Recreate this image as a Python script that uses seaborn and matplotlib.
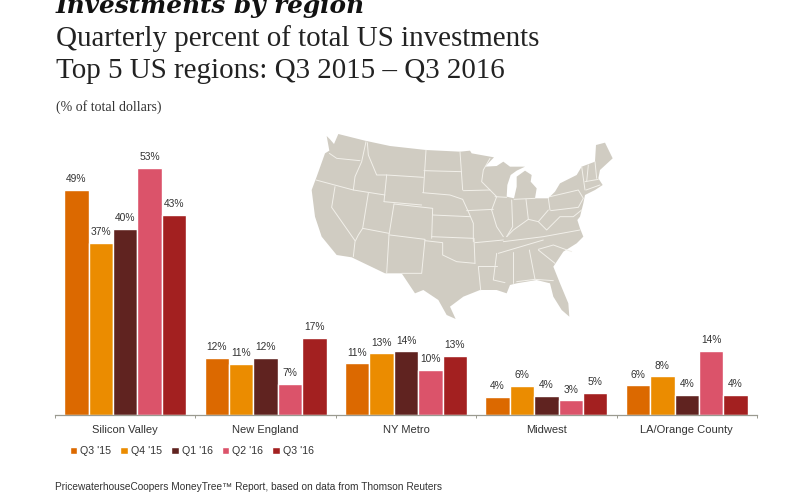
import matplotlib
matplotlib.use("Agg")
import matplotlib.pyplot as plt
import pandas as pd
import seaborn as sns

regions = ["Silicon Valley", "New England", "NY Metro", "Midwest", "LA/Orange County"]
quarters = ["Q3 '15", "Q4 '15", "Q1 '16", "Q2 '16", "Q3 '16"]
q3_15 = [48.6, 12.4, 11.2, 3.9, 6.4]
q4_15 = [37.2, 11.0, 13.3, 6.3, 8.4]
q1_16 = [40.2, 12.4, 13.8, 4.1, 4.4]
q2_16 = [53.3, 6.7, 9.8, 3.2, 13.9]
q3_16 = [43.2, 16.7, 12.8, 4.8, 4.4]
palette = ["#DC6900", "#EB8C00", "#602320", "#DB536A", "#A32020"]

title_lines = ["Quarterly percent of total US investments", "Top 5 US regions: Q3 2015 \u2013 Q3 2016"]

# Decorative map sketch (pixel coordinates of the 3x zoom frame)
us_outline = [(110,48),(120,58),(132,72),(145,42),(225,62),(300,78),(408,90),(510,95),(540,92),(545,100),(612,112),
 (585,140),(620,138),(640,125),(660,140),(705,140),(680,152),(662,165),(652,195),(650,230),(672,235),(680,200),
 (680,170),(705,152),(725,165),(722,185),(740,205),(735,235),(775,235),(795,215),(810,190),(860,165),(875,140),
 (915,125),(918,75),(945,68),(968,115),(930,150),(925,175),(938,195),(915,210),(885,225),(880,250),(870,290),
 (862,300),(870,325),(880,350),(860,370),(820,395),(790,440),(810,490),(835,550),(838,590),(815,570),(790,530),
 (780,490),(740,480),(680,490),(660,495),(650,520),(620,510),(570,510),(520,530),(480,560),(497,597),(470,585),
 (445,540),(400,510),(375,520),(335,460),(285,460),(185,412),(140,405),(95,350),(75,290),(65,210),(80,170),
 (105,100),(118,92)]
state_lines = [
 [(118,100),(140,115),(210,122)], [(228,65),(215,125),(195,170),(190,210)],
 [(232,68),(235,105),(260,165),(290,165)], [(78,180),(190,210),(285,225)],
 [(135,200),(125,262),(195,362)], [(235,220),(218,325),(205,345),(195,365),(190,410)],
 [(290,165),(282,245)], [(290,165),(400,172)], [(282,245),(395,255)], [(408,90),(400,218)],
 [(402,152),(515,155)], [(398,218),(480,225),(518,238)], [(312,252),(297,345)],
 [(312,252),(428,265),(425,355)], [(428,285),(540,290)], [(425,350),(550,355)],
 [(297,345),(290,460)], [(218,325),(297,340)], [(300,345),(405,358),(395,460),(335,460)],
 [(405,362),(458,368),(458,405),(500,425),(555,430)], [(552,355),(555,430)],
 [(510,95),(518,210)], [(520,212),(600,210)], [(600,115),(580,150),(575,185),(600,210),(620,230)],
 [(530,272),(610,268)], [(620,230),(605,270)], [(518,238),(535,275),(550,310),(550,365)],
 [(555,368),(640,360)], [(605,270),(620,320),(640,350)], [(615,230),(650,232)],
 [(665,240),(668,320),(650,350)], [(708,238),(715,298)],
 [(650,350),(670,330),(715,298),(745,305),(775,270)], [(775,235),(780,270)], [(672,238),(735,235)],
 [(780,230),(865,210),(880,235),(865,262),(782,272)], [(640,365),(760,350),(870,330)],
 [(745,305),(770,330),(810,290),(850,290),(875,270)], [(625,400),(760,360)],
 [(565,438),(620,438)], [(565,440),(572,510)], [(620,400),(610,480),(645,488)],
 [(668,395),(668,490)], [(718,390),(735,478)], [(680,485),(735,478),(790,482)],
 [(745,390),(795,430)], [(745,388),(790,375),(845,395)], [(875,140),(885,210)],
 [(895,135),(890,185)], [(915,125),(920,175)], [(885,185),(925,178)], [(888,210),(930,195)],
]

df = pd.DataFrame({
    "region": regions * 5,
    "quarter": [q for q in quarters for _ in regions],
    "value": q3_15 + q4_15 + q1_16 + q2_16 + q3_16,
})

sns.set_theme(style="white")
plt.rcParams["font.family"] = ["Liberation Sans", "DejaVu Sans"]
W, H = 800, 495
fig = plt.figure(figsize=(W / 100, H / 100), dpi=100, facecolor="white")

ax = fig.add_axes([55 / W, (H - 415) / H, 702 / W, 278 / H])
sns.barplot(data=df, x="region", y="value", hue="quarter", order=regions, hue_order=quarters,
            palette=palette, width=0.87, gap=0, saturation=1, ax=ax)
for c in ax.containers:
    ax.bar_label(c, fmt="%.0f%%", fontsize=7.4, color="#333333", padding=4)
ax.set_xlim(-0.5, 4.5)
ax.set_ylim(0, 60)
ax.set_xlabel("")
ax.set_ylabel("")
ax.set_yticks([])
for s in ["top", "left", "right"]:
    ax.spines[s].set_visible(False)
ax.spines["bottom"].set_color("#9a9a90")
ax.spines["bottom"].set_linewidth(0.9)
ax.set_xticks(range(5), regions, fontsize=8, color="#333333")
ax.set_xticks([-0.5, 0.5, 1.5, 2.5, 3.5, 4.5], minor=True)
ax.tick_params(axis="x", which="major", length=0, pad=7)
ax.tick_params(axis="x", which="minor", length=2.5, width=0.7, color="#9a9a90", bottom=True)

handles, labels = ax.get_legend_handles_labels()
ax.legend(handles, labels, loc="upper left", bbox_to_anchor=(0.021, -0.112), ncol=5, frameon=False,
          fontsize=7.7, handlelength=0.7, handleheight=0.7, handletextpad=0.3, columnspacing=0.84,
          labelcolor="#333333", borderpad=0, borderaxespad=0)

# Map overlay in pixel space
mx = fig.add_axes([0, 0, 1, 1], facecolor="none", zorder=0)
mx.set_xlim(0, W)
mx.set_ylim(H, 0)
mx.axis("off")
to_px = lambda pts: ([290 + p[0] / 3 for p in pts], [120 + p[1] / 3 for p in pts])
mx.fill(*to_px(us_outline), color="#D0CCC2", lw=0)
for line in state_lines:
    mx.plot(*to_px(line), color="#F2F0EA", lw=0.7, solid_joinstyle="round")

fig.text(56 / W, 1 - 13 / H, "Investments by region", family=["DejaVu Serif"], fontsize=17.8, style="italic",
         weight="bold", color="#111111", va="baseline")
serif = ["Liberation Serif", "DejaVu Serif"]
fig.text(56 / W, 1 - 46 / H, title_lines[0], family=serif, fontsize=20.9, color="#222222", va="baseline")
fig.text(56 / W, 1 - 78 / H, title_lines[1], family=serif, fontsize=20.9, color="#222222", va="baseline")
fig.text(56 / W, 1 - 111 / H, "(% of total dollars)", family=serif, fontsize=10, color="#333333", va="baseline")
fig.text(55 / W, 1 - 490 / H, "PricewaterhouseCoopers MoneyTree\u2122 Report, based on data from Thomson Reuters",
         fontsize=7.3, color="#333333", va="baseline")

fig.savefig("out.png", dpi=100)
